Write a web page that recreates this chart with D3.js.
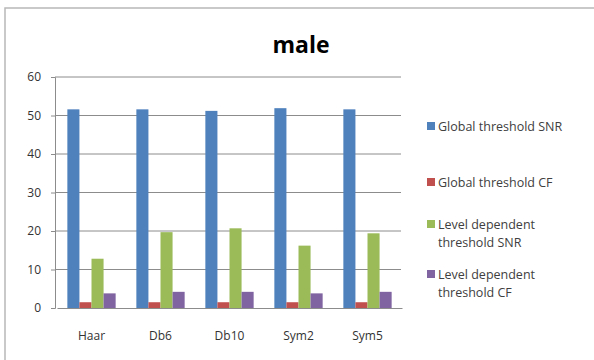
<!DOCTYPE html>
<html>
<head>
<meta charset="utf-8">
<script src="https://cdn.jsdelivr.net/npm/d3@7"></script>
<style>
  body { margin: 0; background: #fff; }
  text { font-family: "Open Sans", "Noto Sans", sans-serif; }
</style>
</head>
<body>
<div id="chart"></div>
<script>
// values
let categories = ["Haar", "Db6", "Db10", "Sym2", "Sym5"]
let seriesNames = ["Global threshold SNR", "Global threshold CF",
                   "Level dependent threshold SNR", "Level dependent threshold CF"]
let globalSNR = [51.6, 51.6, 51.2, 51.9, 51.6]
let globalCF = [1.5, 1.5, 1.5, 1.5, 1.5]
let levelSNR = [12.8, 19.7, 20.7, 16.2, 19.4]
let levelCF = [3.8, 4.2, 4.2, 3.8, 4.2]
let yTicks = [0, 10, 20, 30, 40, 50, 60]
let colors = ["#4F81BD", "#C0504D", "#9BBB59", "#8064A2"]

let series = [globalSNR, globalCF, levelSNR, levelCF]

let svg = d3.select("#chart")
  .append("svg")
  .attr("width", 594)
  .attr("height", 360)

// chart frame (cut off on right and bottom in the original)
svg.append("rect")
  .attr("x", 5).attr("y", 8)
  .attr("width", 620).attr("height", 380)
  .attr("fill", "none")
  .attr("stroke", "#b8b8b8")
  .attr("stroke-width", 1.5)

svg.append("text")
  .attr("x", 301).attr("y", 53)
  .attr("text-anchor", "middle")
  .attr("font-size", 23)
  .attr("font-weight", "bold")
  .attr("fill", "#000")
  .text("male")

let plotL = 55, plotR = 401, plotT = 77, plotB = 308

let x0 = d3.scaleBand()
  .domain(categories)
  .range([plotL + 2, plotR + 1])
  .paddingInner(0.3)
  .paddingOuter(0.15)

let x1 = d3.scaleBand()
  .domain(d3.range(series.length))
  .range([0, x0.bandwidth()])

let y = d3.scaleLinear()
  .domain([0, 60])
  .range([plotB, plotT])

// gridlines
svg.append("g")
  .selectAll("line")
  .data(yTicks.filter(d => d > 0))
  .enter()
  .append("line")
  .attr("x1", plotL).attr("x2", plotR)
  .attr("y1", d => y(d)).attr("y2", d => y(d))
  .attr("stroke", "#8c8c8c")
  .attr("stroke-width", 1)

// y axis
let yAxis = svg.append("g")
  .attr("transform", `translate(${plotL},0)`)
  .call(d3.axisLeft(y).tickValues(yTicks).tickSize(4).tickPadding(10))
yAxis.select(".domain").attr("stroke", "#8c8c8c")
yAxis.selectAll(".tick line").attr("stroke", "#8c8c8c")
yAxis.selectAll(".tick text")
  .attr("font-size", 12)
  .attr("fill", "#333")
  .attr("font-family", "Open Sans, Noto Sans, sans-serif")

// bars
let groups = svg.append("g")
  .selectAll("g")
  .data(categories)
  .enter()
  .append("g")
  .attr("transform", d => `translate(${x0(d)},0)`)

groups.selectAll("rect")
  .data((d, i) => series.map((s, k) => ({k: k, v: s[i]})))
  .enter()
  .append("rect")
  .attr("x", d => x1(d.k))
  .attr("width", x1.bandwidth())
  .attr("y", d => y(d.v))
  .attr("height", d => y(0) - y(d.v))
  .attr("fill", d => colors[d.k])

// x axis
let xAxis = svg.append("g")
  .attr("transform", `translate(0,${plotB})`)
  .call(d3.axisBottom(x0).tickSize(0).tickPadding(23))
xAxis.select(".domain").attr("stroke", "#8c8c8c")
xAxis.selectAll(".tick text")
  .attr("font-size", 12)
  .attr("fill", "#333")
  .attr("font-family", "Open Sans, Noto Sans, sans-serif")

// legend
let legendRows = [
  {lines: ["Global threshold SNR"], y: 126},
  {lines: ["Global threshold CF"], y: 182},
  {lines: ["Level dependent", "threshold SNR"], y: 224},
  {lines: ["Level dependent", "threshold CF"], y: 274}
]

let legend = svg.append("g")
  .selectAll("g")
  .data(legendRows)
  .enter()
  .append("g")

legend.append("rect")
  .attr("x", 427)
  .attr("y", d => d.y - 4)
  .attr("width", 8).attr("height", 8)
  .attr("fill", (d, i) => colors[i])

legend.append("text")
  .attr("x", 438)
  .attr("y", d => d.y + 4.5)
  .attr("font-size", 12.5)
  .attr("fill", "#404040")
  .selectAll("tspan")
  .data(d => d.lines)
  .enter()
  .append("tspan")
  .attr("x", 438)
  .attr("dy", (d, i) => i ? 18 : 0)
  .text(d => d)
</script>
</body>
</html>
